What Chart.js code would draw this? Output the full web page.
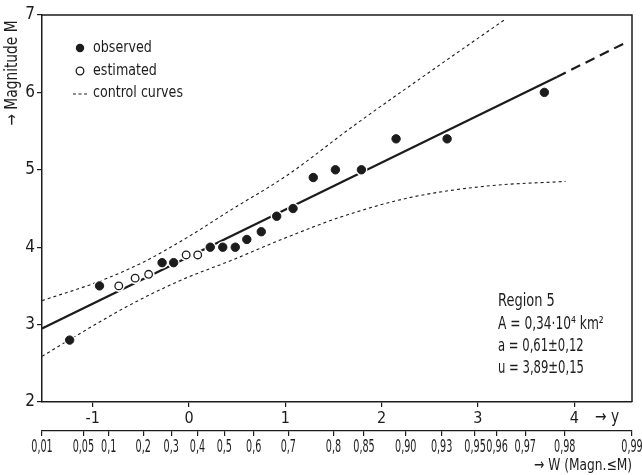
<!DOCTYPE html>
<html>
<head>
<meta charset="utf-8">
<script src="https://cdn.jsdelivr.net/npm/chart.js@4.4.1/dist/chart.umd.min.js"></script>
<style>
    html, body { margin: 0; padding: 0; background: #fff; }
    #wrap { width: 642px; height: 475px; }
</style>
</head>
<body>
<div id="wrap"><canvas id="gumbel" width="642" height="475"></canvas></div>
<script>
        // ============= DATA =============
        // x = reduced variate y, value = magnitude M
        const obsY = [-1.24, -0.93, -0.28, -0.16, 0.22, 0.35, 0.48, 0.60, 0.75, 0.91, 1.08, 1.29, 1.52, 1.79, 2.15, 2.68, 3.69];
        const obsM = [2.8, 3.5, 3.8, 3.8, 4.0, 4.0, 4.0, 4.1, 4.2, 4.4, 4.5, 4.9, 5.0, 5.0, 5.4, 5.4, 6.0];
        const estY = [-0.73, -0.56, -0.42, -0.03, 0.09];
        const estM = [3.5, 3.6, 3.65, 3.9, 3.9];

        // fitted line, solid part and dashed extrapolation
        const fitY = [-1.527, 3.82];
        const fitM = [2.95, 6.20];
        const extY = [3.82, 4.53];
        const extM = [6.20, 6.64];

        // control curves
        const upperY = [-1.527, -0.93, -0.47, 0.0, 0.42, 1.02, 1.70, 2.54, 3.29];
        const upperM = [3.31, 3.56, 3.81, 4.14, 4.47, 4.93, 5.56, 6.30, 6.95];
        const lowerY = [-1.527, -1.18, -0.65, -0.11, 0.46, 0.96, 1.60, 2.29, 3.09, 3.91];
        const lowerM = [2.59, 2.85, 3.23, 3.56, 3.84, 4.10, 4.40, 4.64, 4.79, 4.85];

        // axis ticks
        const yTicks = [-1, 0, 1, 2, 3, 4];
        const mTicks = [2, 3, 4, 5, 6, 7];
        const wValues = [0.01, 0.05, 0.1, 0.2, 0.3, 0.4, 0.5, 0.6, 0.7, 0.8, 0.85, 0.90, 0.93, 0.95, 0.96, 0.97, 0.98, 0.99];
        const wLabels = ['0,01', '0,05', '0,1', '0,2', '0,3', '0,4', '0,5', '0,6', '0,7', '0,8', '0,85', '0,90', '0,93', '0,95', '0,96', '0,97', '0,98', '0,99'];

        const INK = '#1c1c1c';
        const FONT = '"DejaVu Sans Condensed", "DejaVu Sans", sans-serif';

        // Gumbel reduced variate for a probability W
        const gumbel = (w) => -Math.log(-Math.log(w));
        const pts = (xs, ys) => xs.map((x, i) => ({ x: x, y: ys[i] }));

        // narrow lettering like the original plate
        function txt(ctx, s, x, y, size, align, sx) {
            ctx.save();
            ctx.font = size + 'px ' + FONT;
            ctx.fillStyle = INK;
            ctx.textBaseline = 'middle';
            ctx.textAlign = align || 'left';
            ctx.translate(x, y);
            ctx.scale(sx || 0.85, 1);
            ctx.fillText(s, 0, 0);
            ctx.restore();
        }

        const decorations = {
            id: 'decorations',
            afterDraw(chart) {
                const ctx = chart.ctx;
                const a = chart.chartArea;

                // box: top and right edges
                ctx.save();
                ctx.strokeStyle = INK;
                ctx.lineWidth = 1.5;
                ctx.beginPath();
                ctx.moveTo(a.left, a.top);
                ctx.lineTo(a.right, a.top);
                ctx.lineTo(a.right, a.bottom);
                ctx.stroke();
                ctx.restore();

                // legend
                ctx.save();
                ctx.fillStyle = INK;
                ctx.beginPath(); ctx.arc(80, 48, 4.2, 0, Math.PI * 2); ctx.fill();
                ctx.strokeStyle = INK; ctx.lineWidth = 1.3;
                ctx.beginPath(); ctx.arc(80, 71, 3.8, 0, Math.PI * 2); ctx.stroke();
                ctx.setLineDash([3, 2.5]); ctx.lineWidth = 1.2;
                ctx.beginPath(); ctx.moveTo(73, 94); ctx.lineTo(88, 94); ctx.stroke();
                ctx.restore();
                txt(ctx, 'observed', 93, 48, 16, 'left', 0.88);
                txt(ctx, 'estimated', 93, 71, 16, 'left', 0.88);
                txt(ctx, 'control curves', 93, 93, 16, 'left', 0.88);

                // region box text
                txt(ctx, 'Region 5', 498, 302, 17, 'left', 0.85);
                txt(ctx, 'A = 0,34·10⁴ km²', 498, 325, 17, 'left', 0.8);
                txt(ctx, 'a = 0,61±0,12', 498, 347, 17, 'left', 0.76);
                txt(ctx, 'u = 3,89±0,15', 498, 369, 17, 'left', 0.76);

                // y-axis title, rotated
                ctx.save();
                ctx.translate(13, 73);
                ctx.rotate(-Math.PI / 2);
                txt(ctx, '→ Magnitude M', 0, 0, 17, 'center', 0.9);
                ctx.restore();

                // x-axis caption
                txt(ctx, '→ y', 595, 418, 17, 'left', 0.9);

                // probability scale labels
                const sw = chart.scales.xw;
                wValues.forEach((w, i) => {
                    txt(ctx, wLabels[i], sw.getPixelForValue(gumbel(w)), 448, 17, 'center', 0.63);
                });
                txt(ctx, '→ W (Magn.≤M)', 632, 466, 16, 'right', 0.85);
            }
        };

        const lineBase = { showLine: true, pointRadius: 0, borderColor: INK, fill: false };

        new Chart(document.getElementById('gumbel').getContext('2d'), {
            type: 'scatter',
            data: {
                datasets: [
                    { label: 'observed', data: pts(obsY, obsM), order: 1, pointRadius: 4.2, backgroundColor: INK, borderColor: INK, borderWidth: 1 },
                    { label: 'estimated', data: pts(estY, estM), order: 1, pointRadius: 3.8, backgroundColor: '#fff', borderColor: INK, borderWidth: 1.3 },
                    // white halos break the lines around the markers
                    { label: 'halo1', data: pts(obsY, obsM), order: 2, pointRadius: 6, backgroundColor: '#fff', borderWidth: 0 },
                    { label: 'halo2', data: pts(estY, estM), order: 2, pointRadius: 6, backgroundColor: '#fff', borderWidth: 0 },
                    Object.assign({ label: 'fit', data: pts(fitY, fitM), order: 3, borderWidth: 2.2 }, lineBase),
                    Object.assign({ label: 'fit ext', data: pts(extY, extM), order: 3, borderWidth: 2.2, borderDash: [10, 6] }, lineBase),
                    Object.assign({ label: 'upper', data: pts(upperY, upperM), order: 3, borderWidth: 1.1, borderDash: [3, 3], cubicInterpolationMode: 'monotone' }, lineBase),
                    Object.assign({ label: 'lower', data: pts(lowerY, lowerM), order: 3, borderWidth: 1.1, borderDash: [3, 3], cubicInterpolationMode: 'monotone' }, lineBase)
                ]
            },
            options: {
                responsive: false,
                animation: false,
                events: [],
                layout: { padding: { left: 0, top: 15, right: 10, bottom: 0 } },
                plugins: { legend: { display: false }, tooltip: { enabled: false } },
                scales: {
                    x: {
                        type: 'linear', position: 'bottom', weight: 1,
                        min: gumbel(0.01), max: gumbel(0.99),
                        afterBuildTicks: (s) => { s.ticks = yTicks.map(v => ({ value: v })); },
                        afterFit: (s) => { s.height = 29; },
                        grid: { drawOnChartArea: false, tickLength: 5, color: INK, lineWidth: 1.2 },
                        border: { color: INK, width: 1.5 },
                        ticks: { color: INK, padding: 2, maxRotation: 0, autoSkip: false, font: { family: FONT, size: 16 } }
                    },
                    xw: {
                        type: 'linear', position: 'bottom', weight: 2,
                        min: gumbel(0.01), max: gumbel(0.99),
                        afterBuildTicks: (s) => { s.ticks = wValues.map(w => ({ value: gumbel(w) })); },
                        afterFit: (s) => { s.height = 44; },
                        grid: { drawOnChartArea: false, tickLength: 5, color: INK, lineWidth: 1.2 },
                        border: { color: INK, width: 1.3 },
                        ticks: { display: false }
                    },
                    y: {
                        type: 'linear', min: 2, max: 7,
                        afterBuildTicks: (s) => { s.ticks = mTicks.map(v => ({ value: v })); },
                        afterFit: (s) => { s.width = 42; },
                        grid: { drawOnChartArea: false, tickLength: 5, color: INK, lineWidth: 1.2 },
                        border: { color: INK, width: 1.5 },
                        ticks: { color: INK, padding: 2, font: { family: FONT, size: 17 } }
                    }
                }
            },
            plugins: [decorations]
        });
</script>
</body>
</html>
